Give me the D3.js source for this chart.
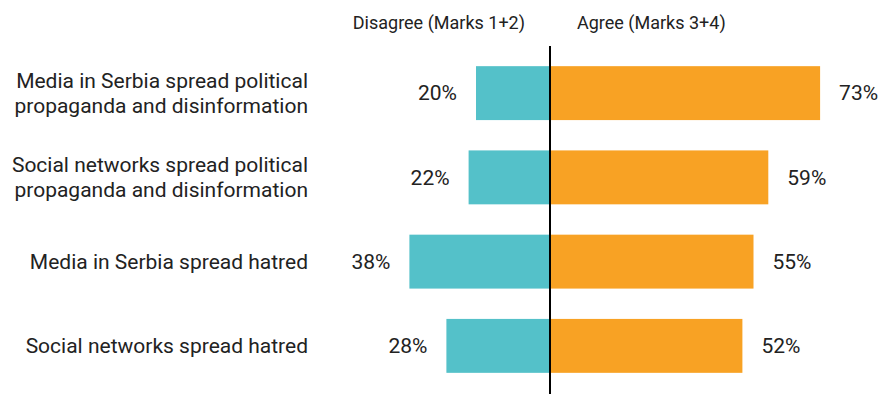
<!DOCTYPE html>
<html>
<head>
<meta charset="utf-8">
<script src="https://cdn.jsdelivr.net/npm/d3@7"></script>
<style>
  html, body { margin: 0; padding: 0; background: #fff; }
  svg { display: block; font-family: Roboto, "Noto Sans", sans-serif; }
</style>
</head>
<body>
<svg id="chart" width="889" height="394"></svg>
<script>
// Survey statements (each line of a label is a separate entry)
const statements = [
  ["Media in Serbia spread political", "propaganda and disinformation"],
  ["Social networks spread political", "propaganda and disinformation"],
  ["Media in Serbia spread hatred"],
  ["Social networks spread hatred"]
];
const disagree = [20, 22, 38, 28];   // Marks 1+2, %
const agree    = [73, 59, 55, 52];   // Marks 3+4, %
const headers  = ["Disagree (Marks 1+2)", "Agree (Marks 3+4)"];

const colors = { disagree: "#54c1c9", agree: "#f8a224", text: "#222", axis: "#000" };

const svg = d3.select("#chart");
const center = 550;
const pxPerPct = 3.7;

// Diverging scale: negative = disagree (left), positive = agree (right)
const x = d3.scaleLinear()
  .domain([-100, 100])
  .range([center - 100 * pxPerPct, center + 100 * pxPerPct]);

const y = d3.scaleBand()
  .domain(d3.range(statements.length))
  .range([51, 388])
  .paddingInner(0.36)
  .paddingOuter(0.18);

const rows = d3.range(statements.length);

// Disagree bars
svg.append("g").selectAll("rect")
  .data(rows).join("rect")
  .attr("x", i => x(-disagree[i]))
  .attr("y", i => y(i))
  .attr("width", i => x(0) - x(-disagree[i]))
  .attr("height", y.bandwidth())
  .attr("fill", colors.disagree);

// Agree bars
svg.append("g").selectAll("rect")
  .data(rows).join("rect")
  .attr("x", x(0))
  .attr("y", i => y(i))
  .attr("width", i => x(agree[i]) - x(0))
  .attr("height", y.bandwidth())
  .attr("fill", colors.agree);

// Value labels
const valueFont = 21;
svg.append("g").selectAll("text")
  .data(rows).join("text")
  .attr("x", i => x(-disagree[i]) - 19)
  .attr("y", i => y(i) + y.bandwidth() / 2)
  .attr("dy", "0.35em")
  .attr("text-anchor", "end")
  .attr("font-size", valueFont)
  .attr("fill", colors.text)
  .text(i => disagree[i] + "%");

svg.append("g").selectAll("text")
  .data(rows).join("text")
  .attr("x", i => x(agree[i]) + 19)
  .attr("y", i => y(i) + y.bandwidth() / 2)
  .attr("dy", "0.35em")
  .attr("text-anchor", "start")
  .attr("font-size", valueFont)
  .attr("fill", colors.text)
  .text(i => agree[i] + "%");

// Statement labels, right-aligned
const lineH = 25;
const labels = svg.append("g").selectAll("text")
  .data(rows).join("text")
  .attr("text-anchor", "end")
  .attr("font-size", 21)
  .attr("fill", colors.text);
labels.each(function(i) {
  const lines = statements[i];
  const cy = y(i) + y.bandwidth() / 2;
  const first = cy - (lines.length - 1) * lineH / 2;
  d3.select(this).selectAll("tspan")
    .data(lines).join("tspan")
    .attr("x", 308)
    .attr("y", (d, k) => first + k * lineH)
    .attr("dy", "0.35em")
    .text(d => d);
});

// Column headers
svg.append("text")
  .attr("x", center - 25).attr("y", 29)
  .attr("text-anchor", "end")
  .attr("font-size", 18)
  .attr("fill", colors.text)
  .text(headers[0]);
svg.append("text")
  .attr("x", center + 27).attr("y", 29)
  .attr("text-anchor", "start")
  .attr("font-size", 18)
  .attr("fill", colors.text)
  .text(headers[1]);

// Zero line
svg.append("line")
  .attr("x1", x(0)).attr("x2", x(0))
  .attr("y1", 46).attr("y2", 394)
  .attr("stroke", colors.axis)
  .attr("stroke-width", 2);
</script>
</body>
</html>
